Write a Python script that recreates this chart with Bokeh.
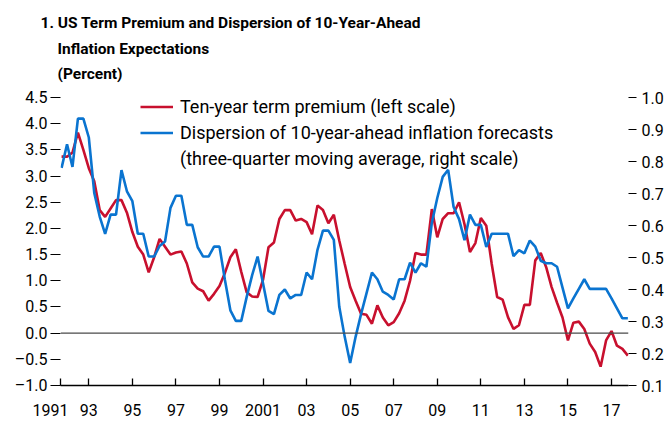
from bokeh.plotting import figure
from bokeh.models import Range1d, LinearAxis, FixedTicker, Span, Title, Legend, LegendItem
from bokeh.embed import file_html
from bokeh.resources import INLINE

# ---------------- data (quarterly, starting 1991:Q4) ----------------
start_year = 1991.75
term_premium = [
    3.37,
    3.37, 3.45, 3.83, 3.50,
    3.15, 2.90, 2.35, 2.22,
    2.38, 2.54, 2.54, 2.30,
    1.93, 1.65, 1.50, 1.16,
    1.45, 1.80, 1.65, 1.50,
    1.54, 1.56, 1.33, 0.97,
    0.85, 0.80, 0.62, 0.75,
    0.90, 1.15, 1.45, 1.60,
    1.17, 0.78, 0.70, 0.69,
    1.02, 1.64, 1.73, 2.18,
    2.35, 2.35, 2.15, 2.18,
    2.12, 1.89, 2.44, 2.35,
    2.10, 2.26, 1.77, 1.32,
    0.88, 0.62, 0.37, 0.35,
    0.18, 0.53, 0.30, 0.15,
    0.21, 0.38, 0.62, 1.00,
    1.53, 1.50, 1.50, 2.37,
    1.83, 2.18, 2.29, 2.29,
    2.50, 2.08, 1.55, 1.72,
    2.20, 2.05, 1.32, 0.69,
    0.64, 0.30, 0.08, 0.15,
    0.54, 0.54, 1.39, 1.53,
    1.26, 0.88, 0.58, 0.30,
    -0.14, 0.20, 0.22, 0.08,
    -0.20, -0.36, -0.64, -0.14,
    0.04, -0.24, -0.30, -0.43,
]
dispersion = [
    0.780,
    0.854, 0.783, 0.934, 0.934,
    0.875, 0.702, 0.628, 0.574,
    0.634, 0.634, 0.773, 0.707,
    0.676, 0.574, 0.574, 0.503,
    0.503, 0.536, 0.550, 0.655,
    0.693, 0.693, 0.602, 0.602,
    0.532, 0.503, 0.503, 0.534,
    0.534, 0.430, 0.335, 0.302,
    0.302, 0.377, 0.445, 0.503,
    0.419, 0.333, 0.323, 0.383,
    0.400, 0.372, 0.383, 0.383,
    0.453, 0.432, 0.524, 0.584,
    0.584, 0.555, 0.346, 0.252,
    0.170, 0.252, 0.323, 0.388,
    0.453, 0.432, 0.393, 0.383,
    0.369, 0.432, 0.432, 0.484,
    0.453, 0.482, 0.471, 0.608,
    0.686, 0.752, 0.774, 0.658,
    0.620, 0.554, 0.634, 0.602,
    0.602, 0.533, 0.574, 0.574,
    0.574, 0.574, 0.504, 0.523,
    0.513, 0.553, 0.534, 0.490,
    0.482, 0.482, 0.471, 0.406,
    0.341, 0.372, 0.402, 0.432,
    0.402, 0.402, 0.402, 0.402,
    0.372, 0.341, 0.310, 0.310,
]
quarters = [start_year + 0.25 * i for i in range(len(term_premium))]

left_ticks = [-1.0, -0.5, 0.0, 0.5, 1.0, 1.5, 2.0, 2.5, 3.0, 3.5, 4.0, 4.5]
left_labels = ["\u20131.0", "\u20130.5", "0.0", "0.5", "1.0", "1.5", "2.0",
               "2.5", "3.0", "3.5", "4.0", "4.5"]
right_ticks = [0.1, 0.2, 0.3, 0.4, 0.5, 0.6, 0.7, 0.8, 0.9, 1.0]
right_labels = ["0.1", "0.2", "0.3", "0.4", "0.5", "0.6", "0.7", "0.8", "0.9", "1.0"]
x_tick_years = [1991, 1993, 1995, 1997, 1999, 2001, 2003, 2005, 2007, 2009,
                2011, 2013, 2015, 2017]
x_tick_labels = ["1991", "93", "95", "97", "99", "2001", "03", "05", "07", "09",
                 "11", "13", "15", "17"]

title_lines = ["1. US Term Premium and Dispersion of 10-Year-Ahead",
               "Inflation Expectations",
               "(Percent)"]
label_red = "Ten-year term premium (left scale)"
label_blue = "Dispersion of 10-year-ahead inflation forecasts"
label_blue2 = "(three-quarter moving average, right scale)"

# ---------------- styling ----------------
RED = "#C8102E"
BLUE = "#0A74D0"
FONT = "Roboto"
TICK_SIZE = "16px"
X_START, X_END = 1991.70, 2017.78

p = figure(width=669, height=422, output_backend="svg", toolbar_location=None,
           x_range=Range1d(X_START, X_END), y_range=Range1d(-1.0, 4.5),
           min_border_left=60, min_border_right=41, min_border_bottom=37,
           min_border_top=97, outline_line_color=None,
           background_fill_color="white", border_fill_color="white")
p.extra_y_ranges = {"right": Range1d(0.1, 1.0)}
p.grid.visible = False

# gap between the title block and the plot frame
p.add_layout(Title(text="\u00a0", text_font_size="1px", standoff=12), "above")
# title lines (added innermost first)
for txt, off, so in [(title_lines[2], -3, 0), (title_lines[1], -3, 10), (title_lines[0], -20, 2)]:
    p.add_layout(Title(text=txt, align="left", offset=off, standoff=so,
                       text_font=FONT, text_font_size="15.5px",
                       text_font_style="bold", text_color="black"), "above")

# x axis; the first label hangs to the left of the axis start, as in the original
xt = [max(y, X_START + 0.001) for y in x_tick_years]
xlabels = [x_tick_labels[0] + "\u00a0" * 5] + x_tick_labels[1:]
xa = p.xaxis[0]
xa.ticker = FixedTicker(ticks=xt)
xa.major_label_overrides = {t: lab for t, lab in zip(xt, xlabels)}
xa.axis_line_color = "black"
xa.axis_line_width = 1.3
xa.major_tick_line_color = "black"
xa.major_tick_line_width = 1.3
xa.major_tick_in = 7
xa.major_tick_out = 0
xa.minor_tick_line_color = None
xa.major_label_standoff = 15
xa.major_label_text_font = FONT
xa.major_label_text_font_size = TICK_SIZE
xa.major_label_text_color = "black"

# left axis
ya = p.yaxis[0]
ya.ticker = FixedTicker(ticks=left_ticks)
ya.major_label_overrides = {t: lab for t, lab in zip(left_ticks, left_labels)}
ya.axis_line_color = None
ya.major_tick_line_color = "black"
ya.major_tick_line_width = 1.2
ya.major_tick_in = 0
ya.major_tick_out = 10
ya.minor_tick_line_color = None
ya.major_label_standoff = 3
ya.major_label_text_font = FONT
ya.major_label_text_font_size = TICK_SIZE
ya.major_label_text_color = "black"

# right axis
ra = LinearAxis(y_range_name="right", ticker=FixedTicker(ticks=right_ticks))
ra.major_label_overrides = {t: lab for t, lab in zip(right_ticks, right_labels)}
ra.axis_line_color = None
ra.major_tick_line_color = "black"
ra.major_tick_line_width = 1.2
ra.major_tick_in = 0
ra.major_tick_out = 8
ra.minor_tick_line_color = None
ra.major_label_standoff = 5
ra.major_label_text_font = FONT
ra.major_label_text_font_size = TICK_SIZE
ra.major_label_text_color = "black"
p.add_layout(ra, "right")

# zero line
p.add_layout(Span(location=0, dimension="width", line_color="#4a4a4a", line_width=1.2))

r_red = p.line(quarters, term_premium, line_color=RED, line_width=2.6)
r_blue = p.line(quarters, dispersion, y_range_name="right", line_color=BLUE, line_width=2.6)
r_blank = p.line([], [], line_color=BLUE, line_alpha=0)

legend = Legend(items=[LegendItem(label=label_red, renderers=[r_red]),
                       LegendItem(label=label_blue, renderers=[r_blue]),
                       LegendItem(label=label_blue2, renderers=[r_blank])],
                location=(80, 215), padding=0, margin=0, spacing=3,
                glyph_width=33, glyph_height=23, label_height=23,
                label_standoff=7, background_fill_alpha=0, border_line_color=None,
                label_text_font=FONT, label_text_font_size="18px",
                label_text_color="black")
p.add_layout(legend)

open("out.html", "w").write(file_html(p, INLINE))
